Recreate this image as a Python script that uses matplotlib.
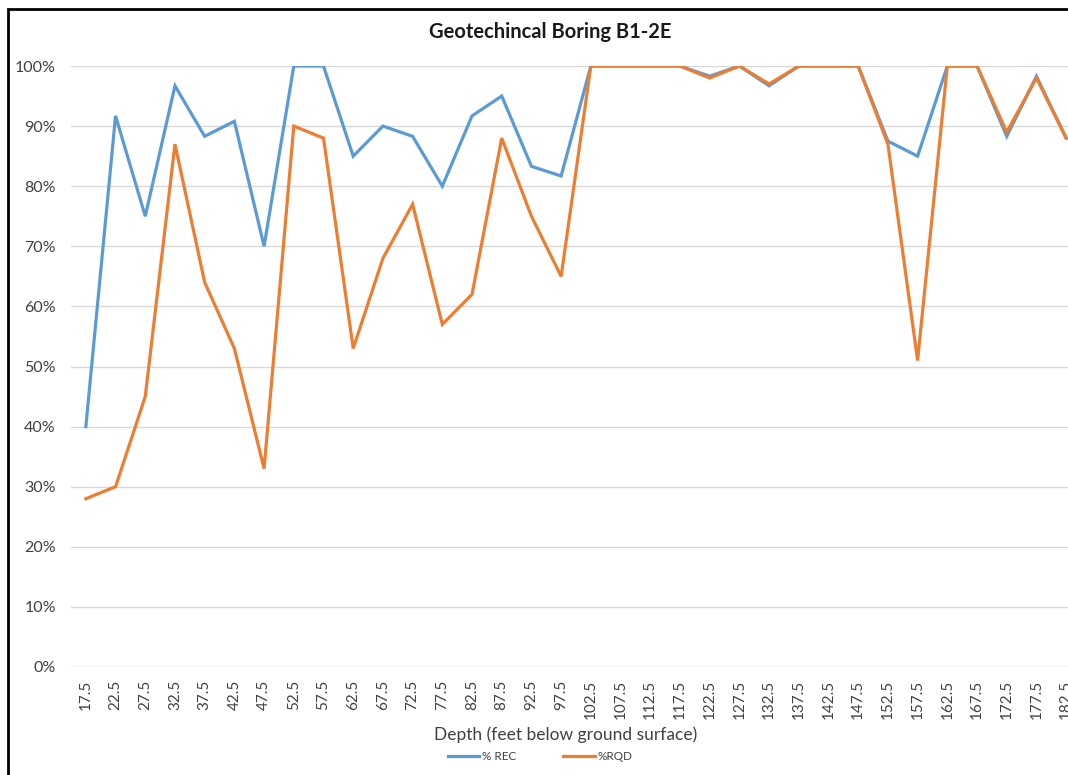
import matplotlib
matplotlib.use("Agg")
import matplotlib.pyplot as plt
from matplotlib.patches import Rectangle
from matplotlib.ticker import PercentFormatter, MultipleLocator

depths = ["17.5", "22.5", "27.5", "32.5", "37.5", "42.5", "47.5", "52.5", "57.5", "62.5",
          "67.5", "72.5", "77.5", "82.5", "87.5", "92.5", "97.5", "102.5", "107.5", "112.5",
          "117.5", "122.5", "127.5", "132.5", "137.5", "142.5", "147.5", "152.5", "157.5",
          "162.5", "167.5", "172.5", "177.5", "182.5"]
rec = [40, 91.7, 75, 96.7, 88.3, 90.8, 70, 100, 100, 85,
       90, 88.3, 80, 91.7, 95, 83.3, 81.7, 100, 100, 100,
       100, 98.3, 100, 96.7, 100, 100, 100, 87.5, 85,
       100, 100, 88.3, 98.3, 88]
rqd = [28, 30, 45, 87, 64, 53, 33, 90, 88, 53,
       68, 77, 57, 62, 88, 75, 65, 100, 100, 100,
       100, 98, 100, 97, 100, 100, 100, 87, 51,
       100, 100, 89, 98, 88]

W, H = 1068, 775
fig = plt.figure(figsize=(W / 100, H / 100), dpi=100)
plt.rcParams['font.family'] = ['Lato', 'DejaVu Sans']

left_px, right_px, top_px, bot_px = 71, 1081, 66, 667
ax = fig.add_axes([left_px / W, 1 - bot_px / H, (right_px - left_px) / W, (bot_px - top_px) / H])

x = list(range(len(depths)))
ax.plot(x, rec, color="#5B9BD5", lw=2.3, label="% REC", solid_joinstyle="miter", zorder=3)
ax.plot(x, rqd, color="#ED7D31", lw=2.3, label="%RQD", solid_joinstyle="miter", zorder=4)

ax.set_xlim(-0.5, len(depths) - 0.5)
ax.set_ylim(0, 100)
ax.yaxis.set_major_locator(MultipleLocator(10))
ax.yaxis.set_major_formatter(PercentFormatter(decimals=0))
ax.set_xticks(x)
ax.set_xticklabels(depths, rotation=90)
ax.grid(axis="y", color="#D9D9D9", lw=1)
ax.set_axisbelow(True)
for s in ax.spines.values():
    s.set_visible(False)
ax.tick_params(axis="both", length=0, labelsize=11, colors="#404040")
ax.tick_params(axis="y", pad=11, labelsize=11.5)
ax.tick_params(axis="x", pad=9)

fig.text(550 / W, 1 - 32 / H, "Geotechincal Boring B1-2E", ha="center", va="center",
         fontsize=14.5, fontweight="bold", color="#1a1a1a")
fig.text(566 / W, 1 - 735 / H, "Depth (feet below ground surface)", ha="center", va="center",
         fontsize=12.5, color="#404040")

fig.legend(loc="center", bbox_to_anchor=(540 / W, 1 - 757 / H), ncol=2, frameon=False,
           fontsize=8.5, handlelength=2.7, columnspacing=4.0, handletextpad=0.2,
           labelcolor="#404040")

fig.patches.append(Rectangle((8 / W, -0.1), 1.2, 1 - 9 / H + 0.1, transform=fig.transFigure,
                             fill=False, edgecolor="black", lw=2, clip_on=False))

fig.savefig("out.png", dpi=100)
